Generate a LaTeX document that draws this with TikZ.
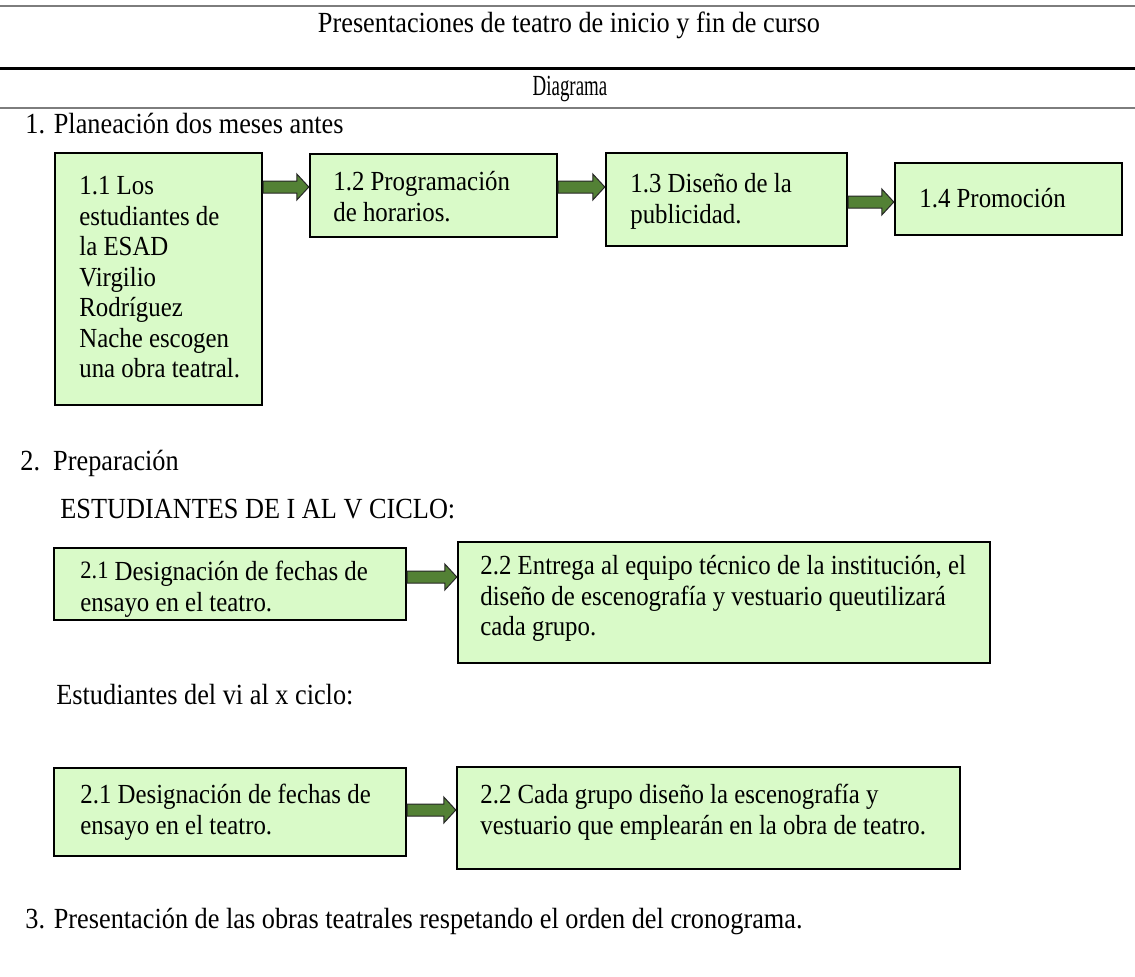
\documentclass[tikz,border=0pt]{standalone}
\usepackage{fontspec}
\setmainfont{Liberation Serif}[FakeStretch=0.9]
\usetikzlibrary{fit,calc}
\definecolor{boxgreen}{RGB}{217,250,200}
\definecolor{arrgreen}{RGB}{83,129,53}
\definecolor{rulegray}{RGB}{125,125,125}
\tikzset{
 box/.style={draw=black, line width=1.2pt, fill=boxgreen, inner sep=0pt},
 txt/.style={inner sep=0pt, anchor=north west, align=left, font=\fontsize{13.8}{15.25}\selectfont},
 lbl/.style={inner sep=0pt, anchor=base west, font=\fontsize{14.6}{16}\selectfont},
 barr/.style={fill=arrgreen, draw=black!85, line width=0.5pt, line join=miter},
}
% block arrow from point #1 to point #2 (same height as #1)
\newcommand\barrow[2]{\filldraw[barr] let \p1=(#1), \p2=(#2) in
 (\x1,\y1+3pt) -- (\x2-6pt,\y1+3pt) -- (\x2-6pt,\y1+6.5pt) -- (\x2,\y1) --
 (\x2-6pt,\y1-6.5pt) -- (\x2-6pt,\y1-3pt) -- (\x1,\y1-3pt) -- cycle;}
\begin{document}
\begin{tikzpicture}[x=0.5pt,y=-0.5pt]
\useasboundingbox (0,0) rectangle (1135,976);
% header rules
\draw[rulegray, line width=1pt] (0,6) -- (1135,6);
\node[lbl, anchor=base] (title) at (569,32) {Presentaciones de teatro de inicio y fin de curso};
\draw[black, line width=1.5pt] (0,68) -- (1135,68);
\node[lbl, anchor=base, xscale=0.72] (diag) at (570,95) {Diagrama};
\draw[rulegray, line width=1pt] (0,108) -- (1135,108);

% section 1
\node[lbl] (s1) at (25,133) {1. Planeación dos meses antes};
\node[box, fit={(55,153) (262,405)}] (b11) {};
\node[box, fit={(310,154) (557,237)}] (b12) {};
\node[box, fit={(606,153) (847,246)}] (b13) {};
\node[box, fit={(895,163) (1122,235)}] (b14) {};
\node[txt] (t11) at (79,173) {\strut 1.1 Los\\estudiantes de\\la ESAD\\Virgilio\\Rodríguez\\Nache escogen\\una obra teatral.};
\node[txt] (t12) at (333,169) {\strut 1.2 Programación\\de horarios.};
\node[txt] (t13) at (630,171) {\strut 1.3 Diseño de la\\publicidad.};
\node[txt] (t14) at (919,186) {\strut 1.4 Promoción};
\barrow{b11.east |- 0,187}{b12.west}
\barrow{b12.east |- 0,187}{b13.west}
\barrow{b13.east |- 0,202}{b14.west}

% section 2
\node[lbl] (s2) at (20,470) {2.\ \ Preparación};
\node[lbl] (g1) at (60,518) {ESTUDIANTES DE I AL V CICLO:};
\node[box, fit={(54,548) (406,620)}] (b21a) {};
\node[box, fit={(458,542) (990,663)}] (b22a) {};
\node[txt] (t21a) at (80,559) {\strut{\fontsize{12.5}{14}\selectfont\raisebox{1pt}{2.1}} Designación de fechas de\\ensayo en el teatro.};
\node[txt] (t22a) at (480,553) {\strut 2.2 Entrega al equipo técnico de la institución, el\\diseño de escenografía y vestuario queutilizará\\cada grupo.};
\barrow{b21a.east |- 0,577}{b22a.west}

\node[lbl] (g2) at (56,704) {Estudiantes del vi al x ciclo:};
\node[box, fit={(54,768) (406,856)}] (b21b) {};
\node[box, fit={(457,767) (960,869)}] (b22b) {};
\node[txt] (t21b) at (80,782) {\strut 2.1 Designación de fechas de\\ensayo en el teatro.};
\node[txt] (t22b) at (480,782) {\strut 2.2 Cada grupo diseño la escenografía y\\vestuario que emplearán en la obra de teatro.};
\barrow{b21b.east |- 0,810}{b22b.west}

% section 3
\node[lbl] (s3) at (25,928) {3. Presentación de las obras teatrales respetando el orden del cronograma.};
\end{tikzpicture}
\end{document}
